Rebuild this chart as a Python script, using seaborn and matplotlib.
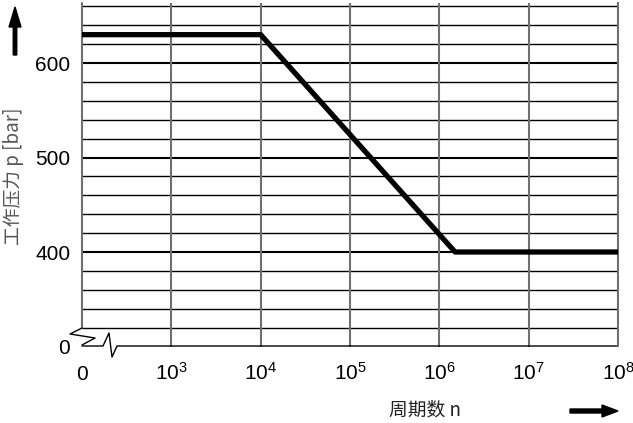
import matplotlib
matplotlib.use('Agg')
import matplotlib.pyplot as plt
from matplotlib.patches import FancyArrow
from matplotlib.transforms import IdentityTransform
import seaborn as sns

# ---- data ----
cycles = [1e2, 1e4, 1.5e6, 1e8]          # 1e2 is shown as "0" (axis break)
pressure = [630, 630, 400, 400]
x_ticks = [1e2, 1e3, 1e4, 1e5, 1e6, 1e7, 1e8]
x_tick_labels = ['0', r'10$^{3}$', r'10$^{4}$', r'10$^{5}$', r'10$^{6}$', r'10$^{7}$', r'10$^{8}$']
y_ticks = [300, 400, 500, 600]
y_tick_labels = ['0', '400', '500', '600']
grid_y = [320, 340, 360, 380, 400, 420, 440, 460, 480, 500, 520, 540, 560, 580, 600, 620, 640, 660]
x_label = '周期数 n'
y_label = '工作压力 p [bar]'

sns.set_theme(style='white')
plt.rcParams['font.family'] = ['Liberation Sans', 'Noto Sans CJK SC', 'DejaVu Sans']
plt.rcParams['mathtext.default'] = 'regular'

W, H = 633, 423
fig = plt.figure(figsize=(W / 100, H / 100), dpi=100)
ax_l, ax_r, ax_t, ax_b = 82, 618, 3, 346.5
ax = fig.add_axes([ax_l / W, 1 - ax_b / H, (ax_r - ax_l) / W, (ax_b - ax_t) / H])

# grid
for gy in grid_y:
    ax.axhline(gy, color='black', lw=1.5 if gy % 100 == 0 else 1.0, zorder=1)
for gx in x_ticks[1:-1]:
    ax.axvline(gx, color='#707070', lw=1.5, zorder=1)

sns.lineplot(x=cycles, y=pressure, ax=ax, color='black', lw=3.8, zorder=3)

ax.set_xscale('log')
ax.set_xlim(1e2, 1e8)
ax.set_ylim(300, 663.5)
ax.set_xticks(x_ticks)
ax.set_xticklabels(x_tick_labels)
ax.set_yticks(y_ticks)
ax.set_yticklabels(y_tick_labels)
ax.minorticks_off()
ax.tick_params(axis='both', length=0, labelsize=15, colors='black')
ax.tick_params(axis='y', pad=8.5)
ax.tick_params(axis='x', pad=24)
for tl in ax.get_xticklabels():
    tl.set_va('baseline')
ax.set_xlabel('')
ax.set_ylabel('')

for s in ['left', 'bottom', 'top']:
    ax.spines[s].set_visible(False)
ax.spines['right'].set_color('#707070')
ax.spines['right'].set_linewidth(1.5)

# axis lines with break symbols (pixel positions -> axes fraction)
def to_ax(px, py):
    return (px - ax_l) / (ax_r - ax_l), (ax_b - py) / (ax_b - ax_t)

def draw_px(pts, **kw):
    xs, ys = zip(*[to_ax(*p) for p in pts])
    ax.plot(xs, ys, transform=ax.transAxes, clip_on=False, **kw)

draw_px([(82, 3), (82, 328)], color='#707070', lw=1.5)
draw_px([(82, 328), (70, 334), (95, 338), (82, 345)], color='black', lw=1.0)
draw_px([(82, 346), (103, 346), (109, 333), (112, 357), (117, 346), (618, 346)], color='black', lw=1.0)

# labels
fig.text(14 / W, 1 - 176 / H, y_label, rotation=90, ha='center', va='center',
         fontsize=13.5, color='#555555', family=['Noto Sans CJK SC', 'DejaVu Sans'])
fig.text(425 / W, 1 - 410 / H, x_label, ha='center', va='center',
         fontsize=13.5, color='#222222', family=['Noto Sans CJK SC', 'DejaVu Sans'])

# arrows (figure pixels, origin bottom-left)
fig.add_artist(FancyArrow(15, H - 55, 0, 48, width=3.5, head_width=12, head_length=20,
                          length_includes_head=True, color='black', transform=IdentityTransform()))
fig.add_artist(FancyArrow(570, H - 411, 48, 0, width=4, head_width=12, head_length=16,
                          length_includes_head=True, color='black', transform=IdentityTransform()))

fig.savefig('out.png', dpi=100)
